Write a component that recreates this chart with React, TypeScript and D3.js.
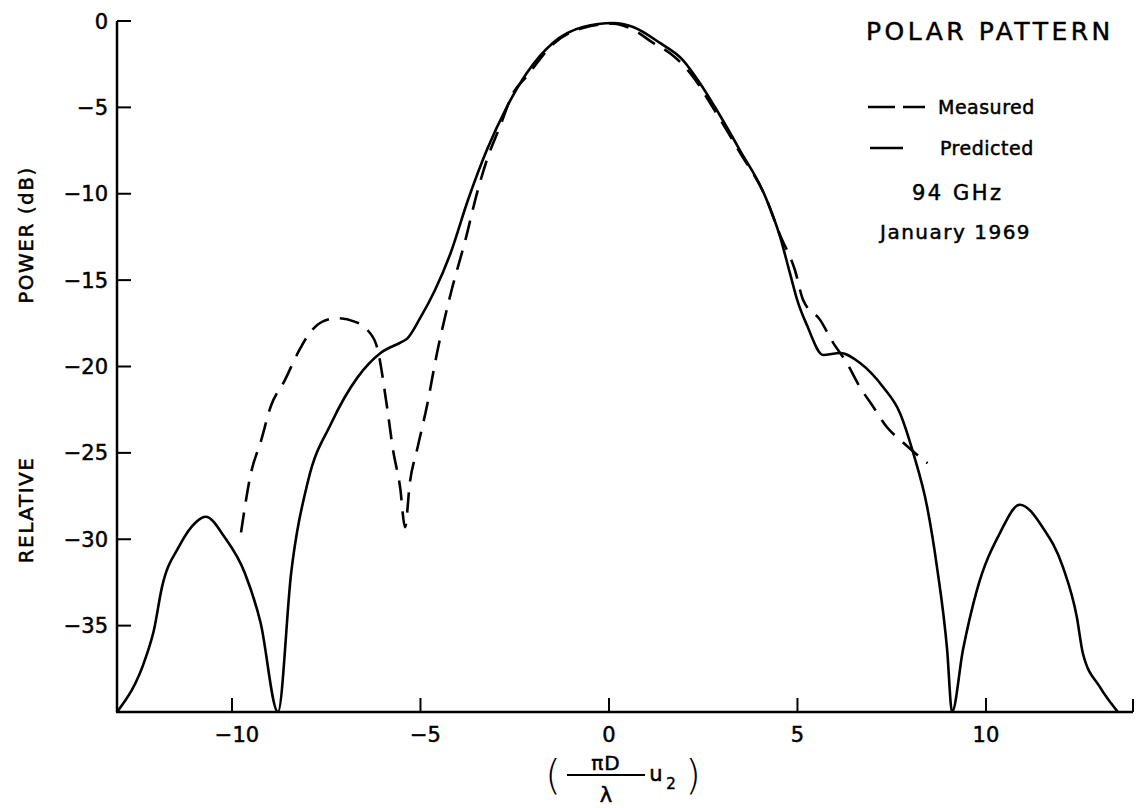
import React from "react";
import * as d3 from "d3";

const predictedU = [-13.05, -12.28, -12.07, -11.86, -11.4, -10.95, -10.7, -10.19, -9.66, -9.24, -8.78, -8.43, -7.98, -7.37, -6.66, -6.05, -5.52, -5.36, -5.01, -4.62, -4.22, -3.74, -3.24, -2.71, -2.18, -1.49, -0.69, 0.11, 0.64, 1.35, 1.96, 2.41, 2.81, 3.47, 4.14, 4.54, 4.8, 5.0, 5.25, 5.68, 6.13, 6.66, 7.27, 7.72, 8.07, 8.44, 8.7, 8.97, 9.1, 9.39, 9.76, 10.37, 10.9, 11.5, 12.04, 12.41, 12.57, 13.02, 13.5];
const predictedDb = [-40, -36.8, -35.25, -32.8, -30.4, -29.0, -28.7, -29.9, -31.95, -34.85, -40, -31.95, -26.6, -23.3, -20.6, -19.2, -18.6, -18.4, -17.2, -15.6, -13.55, -10.36, -7.47, -4.98, -3.01, -1.27, -0.35, -0.12, -0.35, -1.27, -2.26, -3.59, -4.98, -7.47, -10.13, -12.5, -14.6, -16.2, -17.6, -19.33, -19.22, -19.8, -21.19, -22.7, -25.0, -28.13, -31.6, -36.4, -40, -36.4, -32.94, -29.64, -28.0, -29.3, -31.6, -34.5, -36.6, -38.55, -40];

const measuredU = [-9.76, -9.5, -9.23, -8.97, -8.6, -8.25, -7.95, -7.6, -7.2, -6.75, -6.4, -6.15, -5.89, -5.73, -5.54, -5.41, -5.28, -5.09, -4.83, -4.56, -4.2, -3.8, -3.5, -3.24, -2.89, -2.55, -2.18, -1.49, -0.69, 0.11, 0.64, 1.17, 1.62, 2.15, 2.81, 3.47, 4.14, 4.54, 4.93, 5.15, 5.6, 5.94, 6.31, 6.66, 7.0, 7.37, 7.8, 8.45];
const measuredDb = [-29.6, -26.2, -24.3, -22.3, -20.8, -19.2, -18.1, -17.4, -17.2, -17.4, -17.9, -18.9, -22.3, -24.8, -27.0, -29.3, -26.7, -24.8, -22.3, -19.2, -15.8, -12.6, -9.96, -8.05, -6.1, -4.2, -3.2, -1.35, -0.4, -0.15, -0.5, -1.27, -1.87, -3.0, -5.2, -7.6, -10.13, -12.4, -14.4, -16.15, -17.3, -18.6, -19.8, -21.2, -22.3, -23.5, -24.4, -25.6];

const xTicks = [-10, -5, 0, 5, 10];
const yTicks = [0, -5, -10, -15, -20, -25, -30, -35];

const W = 1141;
const H = 808;
const FONT = "'DejaVu Sans', 'Liberation Sans', sans-serif";

export default function App() {
  const x = d3.scaleLinear().domain([-13.05, 13.9]).range([117, 1133]);
  const y = d3.scaleLinear().domain([-40, 0]).range([712, 21]);

  const line = d3
    .line<[number, number]>()
    .x((d) => x(d[0]))
    .y((d) => y(d[1]))
    .curve(d3.curveMonotoneX);

  const predicted = line(predictedU.map((u, i) => [u, predictedDb[i]] as [number, number])) || "";
  const measured = line(measuredU.map((u, i) => [u, measuredDb[i]] as [number, number])) || "";

  const fmt = (v: number) => (v < 0 ? "\u2212" + Math.abs(v) : String(v));
  const ts = { stroke: "#000", strokeWidth: 0.5 };

  return (
    <svg width={W} height={H} style={{ position: "absolute", left: 0, top: 0, background: "#fff" }}>
      <defs>
        <clipPath id="plotclip">
          <rect x={x(-13.05)} y={y(0) - 5} width={x(13.9) - x(-13.05)} height={y(-40) - y(0) + 5} />
        </clipPath>
      </defs>
      {/* axes */}
      <line x1={x(-13.05)} x2={x(-13.05)} y1={y(0)} y2={y(-40)} stroke="#000" strokeWidth={2.5} />
      <line x1={x(-13.05) - 1} x2={x(13.9)} y1={y(-40)} y2={y(-40)} stroke="#000" strokeWidth={2.5} />
      <line x1={x(13.9)} x2={x(13.9)} y1={y(-40)} y2={y(-40) - 13} stroke="#000" strokeWidth={2} />
      {yTicks.map((t) => (
        <g key={"y" + t}>
          <line x1={x(-13.05)} x2={x(-13.05) + 14} y1={y(t)} y2={y(t)} stroke="#000" strokeWidth={2} />
          <text x={x(-13.05) - 9} y={y(t)} dy="0.36em" textAnchor="end" fontFamily={FONT} fontSize={21} fill="#000" {...ts}>
            {fmt(t)}
          </text>
        </g>
      ))}
      {xTicks.map((t) => (
        <g key={"x" + t}>
          <line x1={x(t)} x2={x(t)} y1={y(-40)} y2={y(-40) - 14} stroke="#000" strokeWidth={2} />
          <text x={x(t) + (t < 0 ? 5 : 0)} y={y(-40) + 30} textAnchor="middle" fontFamily={FONT} fontSize={21} fill="#000" {...ts}>
            {fmt(t)}
          </text>
        </g>
      ))}

      {/* curves */}
      <g clipPath="url(#plotclip)">
        <path d={predicted} fill="none" stroke="#000" strokeWidth={2.6} strokeLinejoin="round" />
        <path d={measured} fill="none" stroke="#000" strokeWidth={2.6} strokeDasharray="20 11" />
      </g>

      {/* y axis label */}
      <text transform="translate(33,510) rotate(-90)" textAnchor="middle" fontFamily={FONT} fontSize={20} letterSpacing={1.5} fill="#000" {...ts}>
        RELATIVE
      </text>
      <text transform="translate(33,235) rotate(-90)" textAnchor="middle" fontFamily={FONT} fontSize={20} letterSpacing={1.5} fill="#000" {...ts}>
        POWER (dB)
      </text>

      {/* x axis label */}
      <g fontFamily={FONT} fill="#000">
        <text x={553} y={789} fontSize={40} textAnchor="middle" fontWeight={300}>(</text>
        <text x={606} y={770} fontSize={20} textAnchor="middle" letterSpacing={1} {...ts}>πD</text>
        <line x1={567} x2={645} y1={775} y2={775} stroke="#000" strokeWidth={2} />
        <text x={606} y={802} fontSize={21} textAnchor="middle" {...ts}>λ</text>
        <text x={656} y={781} fontSize={21} textAnchor="middle" {...ts}>u</text>
        <text x={671} y={789} fontSize={15} textAnchor="middle" {...ts}>2</text>
        <text x={693} y={789} fontSize={40} textAnchor="middle" fontWeight={300}>)</text>
      </g>

      {/* legend */}
      <g fontFamily={FONT} fill="#000">
        <text x={866} y={40} fontSize={25} letterSpacing={3.5} {...ts}>POLAR  PATTERN</text>
        <line x1={868} x2={895} y1={107} y2={107} stroke="#000" strokeWidth={2.5} />
        <line x1={903} x2={925} y1={107} y2={107} stroke="#000" strokeWidth={2.5} />
        <text x={938} y={114} fontSize={19} letterSpacing={0.5} {...ts}>Measured</text>
        <line x1={870} x2={903} y1={148} y2={148} stroke="#000" strokeWidth={2.5} />
        <text x={940} y={155} fontSize={19} letterSpacing={0.5} {...ts}>Predicted</text>
        <text x={912} y={200} fontSize={21} letterSpacing={2.5} {...ts}>94 GHz</text>
        <text x={880} y={239} fontSize={20} letterSpacing={1.5} {...ts}>January 1969</text>
      </g>
    </svg>
  );
}
